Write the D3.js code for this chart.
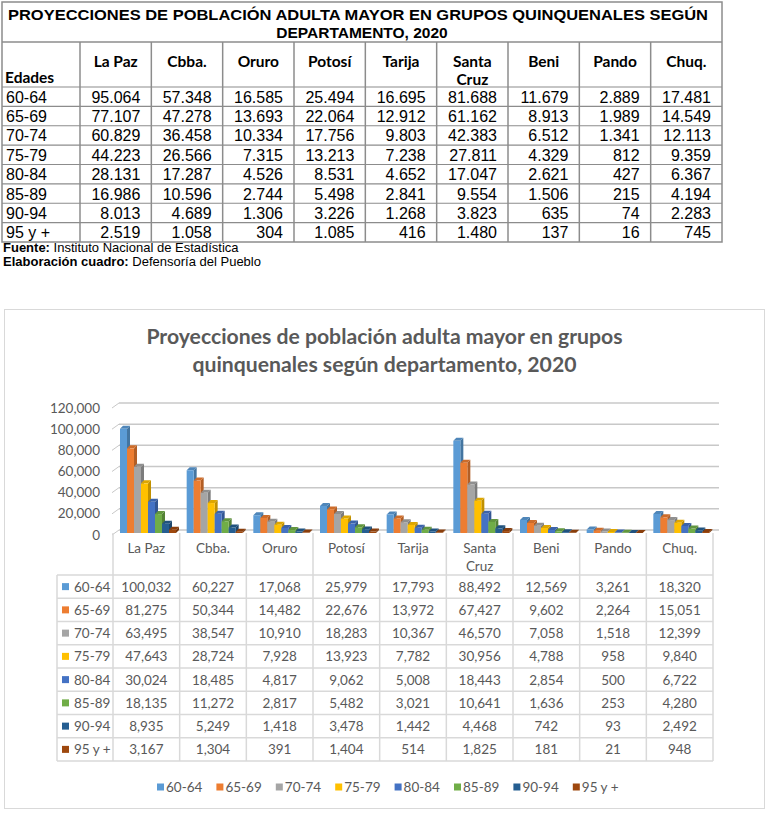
<!DOCTYPE html>
<html>
<meta charset="utf-8">
<style>
  body {
    margin: 0;
    background-color: #fff;
  }
  text {
    font-family: Lato, "Open Sans", sans-serif;
  }
  .cuadro text {
    font-family: "Liberation Sans", Arial, sans-serif;
  }
  .cuadro .cab {
    font-family: Lato, sans-serif;
    font-weight: bold;
  }
</style>

<body>
<script src="https://d3js.org/d3.v7.min.js"></script>
<script>

// Departamentos y grupos de edad
var departamentos = ['La Paz', 'Cbba.', 'Oruro', 'Potosí', 'Tarija', 'Santa Cruz', 'Beni', 'Pando', 'Chuq.'];
var edades = ['60-64', '65-69', '70-74', '75-79', '80-84', '85-89', '90-94', '95 y +'];
var colores = ['#5b9bd5', '#ed7d31', '#a5a5a5', '#ffc000', '#4472c4', '#70ad47', '#255e91', '#9e480e'];
var ticksY = [0, 20000, 40000, 60000, 80000, 100000, 120000];

// cuadro de arriba (INE)
var cuadro6064 = [95064, 57348, 16585, 25494, 16695, 81688, 11679, 2889, 17481];
var cuadro6569 = [77107, 47278, 13693, 22064, 12912, 61162, 8913, 1989, 14549];
var cuadro7074 = [60829, 36458, 10334, 17756, 9803, 42383, 6512, 1341, 12113];
var cuadro7579 = [44223, 26566, 7315, 13213, 7238, 27811, 4329, 812, 9359];
var cuadro8084 = [28131, 17287, 4526, 8531, 4652, 17047, 2621, 427, 6367];
var cuadro8589 = [16986, 10596, 2744, 5498, 2841, 9554, 1506, 215, 4194];
var cuadro9094 = [8013, 4689, 1306, 3226, 1268, 3823, 635, 74, 2283];
var cuadro95 = [2519, 1058, 304, 1085, 416, 1480, 137, 16, 745];

// valores del grafico
var graf6064 = [100032, 60227, 17068, 25979, 17793, 88492, 12569, 3261, 18320];
var graf6569 = [81275, 50344, 14482, 22676, 13972, 67427, 9602, 2264, 15051];
var graf7074 = [63495, 38547, 10910, 18283, 10367, 46570, 7058, 1518, 12399];
var graf7579 = [47643, 28724, 7928, 13923, 7782, 30956, 4788, 958, 9840];
var graf8084 = [30024, 18485, 4817, 9062, 5008, 18443, 2854, 500, 6722];
var graf8589 = [18135, 11272, 2817, 5482, 3021, 10641, 1636, 253, 4280];
var graf9094 = [8935, 5249, 1418, 3478, 1442, 4468, 742, 93, 2492];
var graf95 = [3167, 1304, 391, 1404, 514, 1825, 181, 21, 948];

var cuadro = [cuadro6064, cuadro6569, cuadro7074, cuadro7579, cuadro8084, cuadro8589, cuadro9094, cuadro95];
var grafico = [graf6064, graf6569, graf7074, graf7579, graf8084, graf8589, graf9094, graf95];

var formatPunto = d3.formatLocale({ decimal: ',', thousands: '.', grouping: [3], currency: ['', ''] }).format(',');
var formatComa = d3.format(',');

var svg = d3.select('body').append('svg')
  .attr('width', 770)
  .attr('height', 813);

///////////////////////
// Cuadro (tabla arriba)
///////////////////////
var lineaCuadro = '#8c8c8c';
var cuadroG = svg.append('g').attr('class', 'cuadro');

var xc = d3.scaleBand().domain(departamentos).range([80, 722]);
var yc = d3.scaleBand().domain(edades).range([87, 242]);

cuadroG.append('rect')
  .attr('x', 2).attr('y', 2).attr('width', 720).attr('height', 240)
  .style('fill', 'none').style('stroke', lineaCuadro).style('stroke-width', 1.5);

cuadroG.append('line')
  .attr('x1', 2).attr('x2', 722).attr('y1', 42).attr('y2', 42)
  .style('stroke', lineaCuadro).style('stroke-width', 1.5);

cuadroG.append('text')
  .attr('x', 358).attr('y', 20)
  .attr('text-anchor', 'middle')
  .attr('textLength', 700).attr('lengthAdjust', 'spacingAndGlyphs')
  .style('font-size', '15.5px').style('font-weight', 'bold')
  .text('PROYECCIONES DE POBLACIÓN ADULTA MAYOR EN GRUPOS QUINQUENALES SEGÚN');
cuadroG.append('text')
  .attr('x', 362).attr('y', 38)
  .attr('text-anchor', 'middle')
  .style('font-size', '15.5px').style('font-weight', 'bold')
  .text('DEPARTAMENTO, 2020');

// lineas verticales
cuadroG.selectAll('.vl')
  .data(departamentos)
  .enter().append('line')
  .attr('x1', function(d) { return xc(d); })
  .attr('x2', function(d) { return xc(d); })
  .attr('y1', 42).attr('y2', 242)
  .style('stroke', lineaCuadro).style('stroke-width', 1.5);

// lineas horizontales
cuadroG.selectAll('.hl')
  .data(edades)
  .enter().append('line')
  .attr('x1', 2).attr('x2', 722)
  .attr('y1', function(d) { return yc(d); })
  .attr('y2', function(d) { return yc(d); })
  .style('stroke', lineaCuadro).style('stroke-width', 1.2);

cuadroG.append('text')
  .attr('class', 'cab')
  .attr('x', 5).attr('y', 83)
  .style('font-size', '15.5px')
  .text('Edades');

cuadroG.selectAll('.dep')
  .data(departamentos)
  .enter().append('text')
  .attr('class', 'cab')
  .attr('x', function(d) { return xc(d) + xc.bandwidth() / 2; })
  .attr('y', 67)
  .attr('text-anchor', 'middle')
  .style('font-size', '15.5px')
  .each(function(d) {
    var partes = d === 'Santa Cruz' ? ['Santa', 'Cruz'] : [d];
    var t = d3.select(this);
    partes.forEach(function(p, i) {
      t.append('tspan')
        .attr('x', xc(d) + xc.bandwidth() / 2)
        .attr('dy', i === 0 ? 0 : 18)
        .text(p);
    });
  });

var filasCuadro = cuadroG.selectAll('.fila')
  .data(cuadro)
  .enter().append('g')
  .attr('transform', function(d, i) {
    return 'translate(0,' + (yc(edades[i]) + yc.bandwidth() / 2 + 6) + ')';
  });

filasCuadro.append('text')
  .attr('x', 6)
  .style('font-size', '16px')
  .text(function(d, i) { return edades[i]; });

filasCuadro.selectAll('.v')
  .data(function(d) { return d; })
  .enter().append('text')
  .attr('x', function(d, j) { return xc(departamentos[j]) + xc.bandwidth() - 11; })
  .attr('text-anchor', 'end')
  .style('font-size', '16px')
  .text(function(d) { return formatPunto(d); });

var fuente = cuadroG.append('text').attr('x', 3).attr('y', 252).style('font-size', '13px');
fuente.append('tspan').style('font-weight', 'bold').text('Fuente:');
fuente.append('tspan').text(' Instituto Nacional de Estadística');
var elab = cuadroG.append('text').attr('x', 3).attr('y', 266).style('font-size', '13px');
elab.append('tspan').style('font-weight', 'bold').text('Elaboración cuadro:');
elab.append('tspan').text(' Defensoría del Pueblo');

///////////////////////
// Grafico 3D
///////////////////////
var gris = '#595959';
var lineaTabla = '#d9d9d9';

svg.append('rect')
  .attr('x', 4.5).attr('y', 309.5).attr('width', 760).attr('height', 499)
  .style('fill', '#fff').style('stroke', lineaTabla).style('stroke-width', 1);

svg.append('text')
  .attr('x', 384.5).attr('y', 344)
  .attr('text-anchor', 'middle')
  .style('font-size', '21.2px').style('font-weight', 'bold').style('fill', gris)
  .text('Proyecciones de población adulta mayor en grupos');
svg.append('text')
  .attr('x', 384.5).attr('y', 372)
  .attr('text-anchor', 'middle')
  .style('font-size', '21.2px').style('font-weight', 'bold').style('fill', gris)
  .text('quinquenales según departamento, 2020');

var prof = { dx: 6, dy: 5 };       // profundidad de la pared
var x = d3.scaleBand().domain(departamentos).range([113, 713]);
var xs = d3.scaleBand().domain(edades).range([7, 63]);
var yBack = d3.scaleLinear().domain([0, 120000]).range([530, 403]);
var yBar = d3.scaleLinear().domain([0, 120000]).range([533, 408]);

// lineas de division (pared del fondo)
var grid = svg.append('g');
grid.selectAll('.g')
  .data(ticksY)
  .enter().append('line')
  .attr('x1', 113 + prof.dx).attr('x2', 713 + prof.dx)
  .attr('y1', function(d) { return yBack(d); })
  .attr('y2', function(d) { return yBack(d); })
  .style('stroke', '#c8c8c8').style('stroke-width', 1.5);
grid.selectAll('.d')
  .data(ticksY)
  .enter().append('line')
  .attr('x1', 113 - 1).attr('x2', 113 + prof.dx)
  .attr('y1', function(d) { return yBack(d) + prof.dy; })
  .attr('y2', function(d) { return yBack(d); })
  .style('stroke', '#c8c8c8').style('stroke-width', 1);

svg.selectAll('.ty')
  .data(ticksY)
  .enter().append('text')
  .attr('x', 100)
  .attr('y', function(d) { return yBack(d) + prof.dy + 4.5; })
  .attr('text-anchor', 'end')
  .style('font-size', '13.5px').style('fill', gris)
  .text(function(d) { return formatComa(d); });

// barras 3D
var bdx = 3, bdy = 3;
var barras = svg.append('g');
departamentos.forEach(function(dep, j) {
  edades.forEach(function(ed, i) {
    var v = grafico[i][j];
    var x0 = x(dep) + xs(ed);
    var w = xs.bandwidth();
    var y0 = yBar(0), y1 = yBar(v);
    var c = d3.color(colores[i]);
    var g = barras.append('g');
    g.append('polygon')
      .attr('points', [[x0 + w, y1], [x0 + w + bdx, y1 - bdy], [x0 + w + bdx, y0 - bdy], [x0 + w, y0]].join(' '))
      .style('fill', c.darker(0.8));
    g.append('polygon')
      .attr('points', [[x0, y1], [x0 + bdx, y1 - bdy], [x0 + w + bdx, y1 - bdy], [x0 + w, y1]].join(' '))
      .style('fill', c.darker(0.4));
    g.append('rect')
      .attr('x', x0).attr('y', y1)
      .attr('width', w).attr('height', y0 - y1)
      .style('fill', colores[i]);
  });
});

// tabla de datos
var yt = d3.scaleBand().domain(edades).range([575, 761]);
var tabla = svg.append('g');

tabla.selectAll('.cv')
  .data(departamentos.concat(['fin']))
  .enter().append('line')
  .attr('x1', function(d, i) { return 113 + i * x.bandwidth(); })
  .attr('x2', function(d, i) { return 113 + i * x.bandwidth(); })
  .attr('y1', 533).attr('y2', 761)
  .style('stroke', lineaTabla).style('stroke-width', 1.5);
tabla.append('line')
  .attr('x1', 57).attr('x2', 57).attr('y1', 575).attr('y2', 761)
  .style('stroke', lineaTabla).style('stroke-width', 1.5);
tabla.selectAll('.ch')
  .data(edades.concat(['fin']))
  .enter().append('line')
  .attr('x1', 57).attr('x2', 713)
  .attr('y1', function(d, i) { return 575 + i * yt.bandwidth(); })
  .attr('y2', function(d, i) { return 575 + i * yt.bandwidth(); })
  .style('stroke', lineaTabla).style('stroke-width', 1.5);

tabla.selectAll('.cat')
  .data(departamentos)
  .enter().append('text')
  .attr('x', function(d) { return x(d) + x.bandwidth() / 2; })
  .attr('y', 553)
  .attr('text-anchor', 'middle')
  .style('font-size', '13.5px').style('fill', gris)
  .each(function(d) {
    var partes = d === 'Santa Cruz' ? ['Santa', 'Cruz'] : [d];
    var t = d3.select(this);
    partes.forEach(function(p, i) {
      t.append('tspan')
        .attr('x', x(d) + x.bandwidth() / 2)
        .attr('dy', i === 0 ? 0 : 18)
        .text(p);
    });
  });

var filas = tabla.selectAll('.fila')
  .data(grafico)
  .enter().append('g')
  .attr('transform', function(d, i) {
    return 'translate(0,' + (yt(edades[i]) + yt.bandwidth() / 2) + ')';
  });

filas.append('rect')
  .attr('x', 62).attr('y', -3.5).attr('width', 7).attr('height', 7)
  .style('fill', function(d, i) { return colores[i]; });
filas.append('text')
  .attr('x', 74).attr('y', 5)
  .style('font-size', '13.5px').style('fill', gris)
  .text(function(d, i) { return edades[i]; });

filas.selectAll('.v')
  .data(function(d) { return d; })
  .enter().append('text')
  .attr('x', function(d, j) { return x(departamentos[j]) + x.bandwidth() / 2; })
  .attr('y', 5)
  .attr('text-anchor', 'middle')
  .style('font-size', '13.5px').style('fill', gris)
  .text(function(d) { return formatComa(d); });

// leyenda
var leyenda = svg.append('g')
  .selectAll('g')
  .data(edades)
  .enter().append('g')
  .attr('transform', function(d, i) {
    return 'translate(' + (157 + i * 59.4) + ',787)';
  });
leyenda.append('rect')
  .attr('x', 0).attr('y', -3.5).attr('width', 7).attr('height', 7)
  .style('fill', function(d, i) { return colores[i]; });
leyenda.append('text')
  .attr('x', 9).attr('y', 5)
  .style('font-size', '13.5px').style('fill', gris)
  .text(function(d) { return d; });

</script>
</body>
</html>
